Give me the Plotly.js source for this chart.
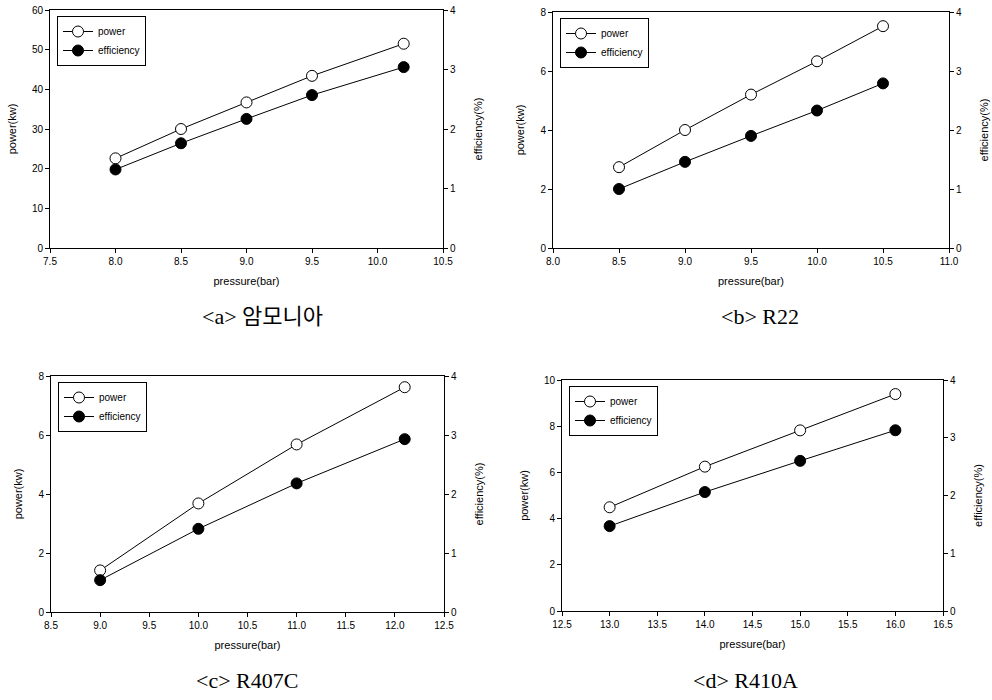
<!DOCTYPE html>
<html>
<head>
<meta charset="utf-8">
<script src="https://cdn.plot.ly/plotly-3.0.1.min.js"></script>
<style>
  body { margin: 0; background: #fff; }
  #plotDiv { width: 992px; height: 700px; }
</style>
</head>
<body>
<div id="plotDiv"></div>
<script>
// <a> ammonia
let pressureA = [8.0, 8.5, 9.0, 9.5, 10.2];
let powerA = [22.6, 30.0, 36.7, 43.4, 51.5];
let effA = [1.32, 1.76, 2.17, 2.57, 3.04];

// <b> R22
let pressureB = [8.5, 9.0, 9.5, 10.0, 10.5];
let powerB = [2.74, 4.0, 5.2, 6.33, 7.52];
let effB = [1.0, 1.46, 1.9, 2.33, 2.79];

// <c> R407C
let pressureC = [9.0, 10.0, 11.0, 12.1];
let powerC = [1.41, 3.68, 5.68, 7.62];
let effC = [0.54, 1.41, 2.18, 2.93];

// <d> R410A
let pressureD = [13.0, 14.0, 15.0, 16.0];
let powerD = [4.49, 6.25, 7.82, 9.39];
let effD = [1.47, 2.06, 2.6, 3.13];

let captions = ["<a> 암모니아", "<b> R22", "<c> R407C", "<d> R410A"];

let W = 992, H = 700;
const tickFont = { family: "Liberation Sans, Arial, sans-serif", size: 10, color: "#000" };
const titleFont = { family: "Liberation Sans, Arial, sans-serif", size: 11, color: "#000" };

let data = [];
let layout = {
  width: W, height: H,
  margin: { l: 0, r: 0, t: 0, b: 0 },
  paper_bgcolor: "#fff", plot_bgcolor: "#fff",
  showlegend: true,
  annotations: []
};

// px box of each panel: [left, right, top, bottom]
let boxes = [
  [50, 443, 10, 248],
  [553, 949, 12, 248],
  [51, 444, 376, 612],
  [562, 943, 380, 611]
];
let panels = [
  { x: pressureA, p: powerA, e: effA, xr: [7.5, 10.5], pr: [0, 60], pd: 10 },
  { x: pressureB, p: powerB, e: effB, xr: [8.0, 11.0], pr: [0, 8], pd: 2 },
  { x: pressureC, p: powerC, e: effC, xr: [8.5, 12.5], pr: [0, 8], pd: 2 },
  { x: pressureD, p: powerD, e: effD, xr: [12.5, 16.5], pr: [0, 10], pd: 2 }
];
let capPos = [[262, 316], [760, 316], [247, 680], [745, 680]];

function axisBase() {
  return {
    showgrid: false, zeroline: false, showline: true, linecolor: "#000", linewidth: 1,
    ticks: "outside", ticklen: 4, tickcolor: "#000", tickwidth: 1,
    tickfont: tickFont, fixedrange: true
  };
}

panels.forEach(function (pn, i) {
  let b = boxes[i];
  let xn = i + 1;
  let xa = xn === 1 ? "x" : "x" + xn;
  let yl = 2 * i + 1, yr = 2 * i + 2;
  let ya = yl === 1 ? "y" : "y" + yl;
  let yb = "y" + yr;
  let leg = i === 0 ? "legend" : "legend" + (i + 1);

  data.push({
    x: pn.x, y: pn.p, xaxis: xa, yaxis: ya, name: "power", legend: leg,
    mode: "lines+markers", type: "scatter",
    line: { color: "#000", width: 1 },
    marker: { symbol: "circle", size: 11, color: "#fff", line: { color: "#000", width: 1 } }
  });
  data.push({
    x: pn.x, y: pn.e, xaxis: xa, yaxis: yb, name: "efficiency", legend: leg,
    mode: "lines+markers", type: "scatter",
    line: { color: "#000", width: 1 },
    marker: { symbol: "circle", size: 11, color: "#000", line: { color: "#000", width: 1 } }
  });

  let xdom = [b[0] / W, b[1] / W];
  let ydom = [1 - b[3] / H, 1 - b[2] / H];

  let xaxis = axisBase();
  Object.assign(xaxis, {
    domain: xdom, anchor: ya, range: pn.xr, dtick: 0.5, tick0: 0, tickformat: ".1f",
    mirror: true,
    title: { text: "pressure(bar)", font: titleFont, standoff: 11 }
  });
  let yaxisL = axisBase();
  Object.assign(yaxisL, {
    domain: ydom, anchor: xa, range: pn.pr, dtick: pn.pd, tick0: 0,
    title: { text: "power(kw)", font: titleFont, standoff: 13 }
  });
  let yaxisR = axisBase();
  Object.assign(yaxisR, {
    domain: ydom, anchor: xa, overlaying: ya, side: "right", range: [0, 4], dtick: 1, tick0: 0,
    title: { text: "efficiency(%)", font: titleFont, standoff: 19 }
  });

  layout[xn === 1 ? "xaxis" : "xaxis" + xn] = xaxis;
  layout[yl === 1 ? "yaxis" : "yaxis" + yl] = yaxisL;
  layout["yaxis" + yr] = yaxisR;

  layout[leg] = {
    x: (b[0] + 7) / W, y: 1 - (b[2] + 6) / H, xanchor: "left", yanchor: "top",
    xref: "paper", yref: "paper",
    bgcolor: "#fff", bordercolor: "#000", borderwidth: 1,
    font: { family: "Liberation Sans, Arial, sans-serif", size: 10, color: "#000" },
    tracegroupgap: 0, itemwidth: 30
  };

  layout.annotations.push({
    text: captions[i].replace("<", "&lt;").replace(">", "&gt;"),
    x: capPos[i][0] / W, y: 1 - capPos[i][1] / H, xref: "paper", yref: "paper",
    xanchor: "center", yanchor: "middle", showarrow: false,
    font: { family: "Liberation Serif, Noto Sans CJK KR, serif", size: 22, color: "#000" }
  });
});

Plotly.newPlot("plotDiv", data, layout, { displayModeBar: false, staticPlot: true });
</script>
</body>
</html>
